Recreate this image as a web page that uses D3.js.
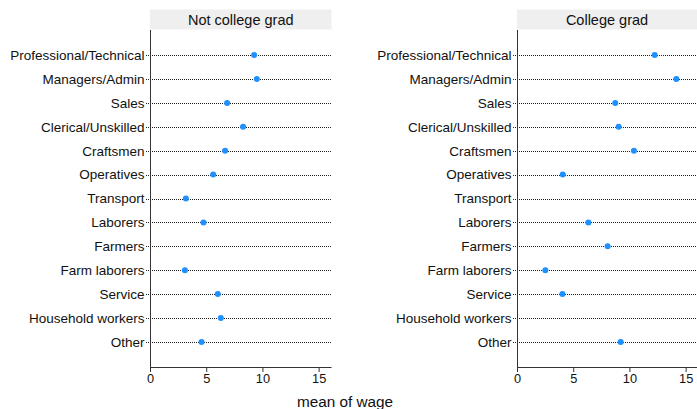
<!DOCTYPE html>
<html><head><meta charset="utf-8">
<script src="https://cdn.jsdelivr.net/npm/d3@7"></script>
<style>body{margin:0;background:#fff}svg{display:block}text{font-family:"Liberation Sans",Arial,sans-serif;}</style>
</head><body>
<svg id="c" width="697" height="409"></svg>
<script>
const categories = ["Professional/Technical","Managers/Admin","Sales","Clerical/Unskilled","Craftsmen","Operatives","Transport","Laborers","Farmers","Farm laborers","Service","Household workers","Other"];
const panels = ["Not college grad","College grad"];
const notGrad = [9.26, 9.5, 6.86, 8.28, 6.68, 5.62, 3.19, 4.76, null, 3.1, 6.03, 6.3, 4.58];
const grad = [12.25, 14.17, 8.74, 9.04, 10.4, 4.07, null, 6.35, 8.06, 2.52, 4.04, null, 9.22];
const xTicks = [0, 5, 10, 15];
const xLabel = "mean of wage";
const series = [notGrad, grad];

const svg = d3.select("#c");
const plotTop = 30, plotBottom = 367;
const panelX = [150, 517];
const panelW = [181.5, 180];
const y = d3.scalePoint().domain(categories).range([plotTop, plotBottom]).padding(1.05);

panels.forEach((p, i) => {
  const g = svg.append("g").attr("transform", `translate(${panelX[i]},0)`);
  const x = d3.scaleLinear().domain([0, 16.1]).range([0, 181]);
  g.append("rect").attr("x", 0).attr("y", 9.5).attr("width", panelW[i]).attr("height", 20).attr("fill", "#efefef");
  g.append("text").attr("x", panelW[i] / 2).attr("y", 25).attr("text-anchor", "middle")
    .attr("font-size", 14.5).attr("fill", "#111").text(p);
  g.selectAll("line.row").data(categories).join("line").attr("class", "row")
    .attr("x1", -4).attr("x2", panelW[i]).attr("y1", d => Math.round(y(d)) + 0.5).attr("y2", d => Math.round(y(d)) + 0.5)
    .attr("stroke", "#222").attr("stroke-width", 1).attr("stroke-dasharray", "1,1");
  g.selectAll("text.lab").data(categories).join("text").attr("class", "lab")
    .attr("x", -5.5).attr("y", d => y(d)).attr("dy", "0.36em").attr("text-anchor", "end")
    .attr("font-size", 13.5).attr("fill", "#111").text(d => d);
  const xa = g.append("g").attr("transform", `translate(0,${plotBottom})`)
    .call(d3.axisBottom(x).tickValues(xTicks).tickSize(5).tickPadding(2).tickSizeOuter(0));
  xa.select(".domain").attr("d", `M0,0.5H${panelW[i]}`).attr("stroke", "#333");
  xa.selectAll(".tick line").attr("stroke", "#333");
  xa.selectAll("text").attr("font-size", 12.8).attr("fill", "#111");
  g.append("line").attr("x1", 0.5).attr("x2", 0.5).attr("y1", plotTop).attr("y2", plotBottom + 1).attr("stroke", "#333");
  const data = categories.map((c, k) => ({c, v: series[i][k]})).filter(d => d.v != null);
  g.selectAll("circle").data(data).join("circle")
    .attr("cx", d => x(d.v)).attr("cy", d => y(d.c)).attr("r", 3).attr("fill", "#1e90ff");
});
svg.append("text").attr("x", 345).attr("y", 407).attr("text-anchor", "middle")
  .attr("font-size", 15.3).attr("fill", "#111").text(xLabel);
</script>
</body></html>
